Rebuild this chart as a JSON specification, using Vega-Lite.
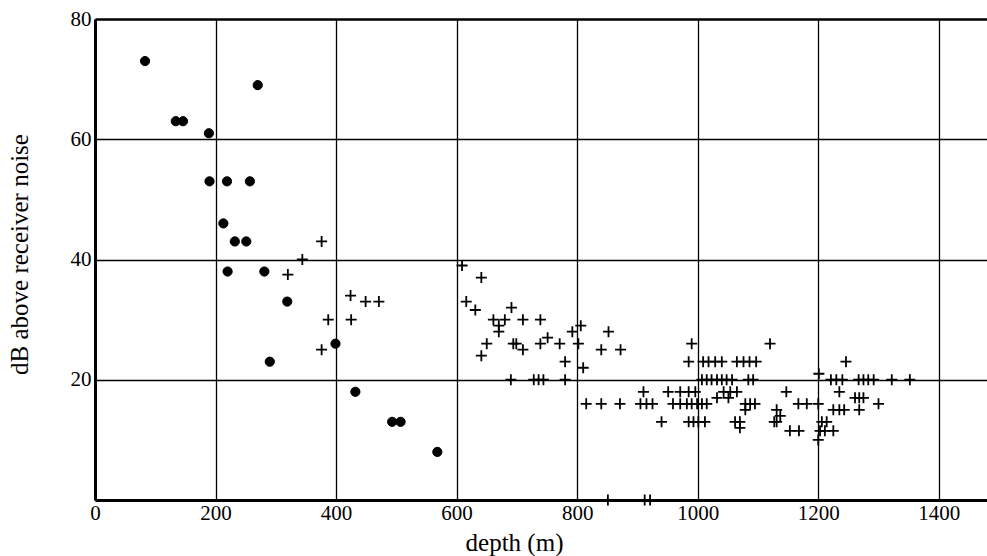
{
  "$schema": "https://vega.github.io/schema/vega-lite/v6.json",
  "width": 892,
  "height": 481,
  "autosize": "none",
  "padding": {"left": 95, "top": 19, "right": 0, "bottom": 56},
  "background": "white",
  "config": {"view": {"stroke": null}, "font": "Liberation Serif"},
  "data": {"values": [
    {"depth": 83, "db": 73, "type": "circle"},
    {"depth": 270, "db": 69, "type": "circle"},
    {"depth": 134, "db": 63, "type": "circle"},
    {"depth": 146, "db": 63, "type": "circle"},
    {"depth": 189, "db": 61, "type": "circle"},
    {"depth": 190, "db": 53, "type": "circle"},
    {"depth": 219, "db": 53, "type": "circle"},
    {"depth": 257, "db": 53, "type": "circle"},
    {"depth": 213, "db": 46, "type": "circle"},
    {"depth": 232, "db": 43, "type": "circle"},
    {"depth": 251, "db": 43, "type": "circle"},
    {"depth": 220, "db": 38, "type": "circle"},
    {"depth": 281, "db": 38, "type": "circle"},
    {"depth": 319, "db": 33, "type": "circle"},
    {"depth": 290, "db": 23, "type": "circle"},
    {"depth": 399, "db": 26, "type": "circle"},
    {"depth": 432, "db": 18, "type": "circle"},
    {"depth": 493, "db": 13, "type": "circle"},
    {"depth": 507, "db": 13, "type": "circle"},
    {"depth": 568, "db": 8, "type": "circle"},

    {"depth": 376, "db": 43, "type": "cross"},
    {"depth": 344, "db": 40, "type": "cross"},
    {"depth": 320, "db": 37.5, "type": "cross"},
    {"depth": 424, "db": 34, "type": "cross"},
    {"depth": 449, "db": 33, "type": "cross"},
    {"depth": 471, "db": 33, "type": "cross"},
    {"depth": 387, "db": 30, "type": "cross"},
    {"depth": 425, "db": 30, "type": "cross"},
    {"depth": 376, "db": 25, "type": "cross"},
    {"depth": 609, "db": 39, "type": "cross"},
    {"depth": 641, "db": 37, "type": "cross"},
    {"depth": 616, "db": 33, "type": "cross"},
    {"depth": 631, "db": 31.6, "type": "cross"},
    {"depth": 691, "db": 32, "type": "cross"},
    {"depth": 661, "db": 30, "type": "cross"},
    {"depth": 680, "db": 30, "type": "cross"},
    {"depth": 670, "db": 29, "type": "cross"},
    {"depth": 670, "db": 28, "type": "cross"},
    {"depth": 710, "db": 30, "type": "cross"},
    {"depth": 739, "db": 30, "type": "cross"},
    {"depth": 792, "db": 28, "type": "cross"},
    {"depth": 806, "db": 29, "type": "cross"},
    {"depth": 852, "db": 28, "type": "cross"},
    {"depth": 650, "db": 26, "type": "cross"},
    {"depth": 694, "db": 26, "type": "cross"},
    {"depth": 699, "db": 26, "type": "cross"},
    {"depth": 710, "db": 25, "type": "cross"},
    {"depth": 739, "db": 26, "type": "cross"},
    {"depth": 751, "db": 27, "type": "cross"},
    {"depth": 771, "db": 26, "type": "cross"},
    {"depth": 802, "db": 26, "type": "cross"},
    {"depth": 641, "db": 24, "type": "cross"},
    {"depth": 840, "db": 25, "type": "cross"},
    {"depth": 872, "db": 25, "type": "cross"},
    {"depth": 780, "db": 23, "type": "cross"},
    {"depth": 810, "db": 22, "type": "cross"},
    {"depth": 690, "db": 20, "type": "cross"},
    {"depth": 728, "db": 20, "type": "cross"},
    {"depth": 736, "db": 20, "type": "cross"},
    {"depth": 744, "db": 20, "type": "cross"},
    {"depth": 780, "db": 20, "type": "cross"},
    {"depth": 910, "db": 18, "type": "cross"},
    {"depth": 815, "db": 16, "type": "cross"},
    {"depth": 840, "db": 16, "type": "cross"},
    {"depth": 871, "db": 16, "type": "cross"},
    {"depth": 905, "db": 16, "type": "cross"},
    {"depth": 915, "db": 16, "type": "cross"},
    {"depth": 925, "db": 16, "type": "cross"},
    {"depth": 851, "db": 0, "type": "cross"},
    {"depth": 912, "db": 0, "type": "cross"},
    {"depth": 921, "db": 0, "type": "cross"},
    {"depth": 990, "db": 26, "type": "cross"},
    {"depth": 1120, "db": 26, "type": "cross"},
    {"depth": 985, "db": 23, "type": "cross"},
    {"depth": 1009, "db": 23, "type": "cross"},
    {"depth": 1018, "db": 23, "type": "cross"},
    {"depth": 1029, "db": 23, "type": "cross"},
    {"depth": 1040, "db": 23, "type": "cross"},
    {"depth": 1065, "db": 23, "type": "cross"},
    {"depth": 1076, "db": 23, "type": "cross"},
    {"depth": 1086, "db": 23, "type": "cross"},
    {"depth": 1097, "db": 23, "type": "cross"},
    {"depth": 1007, "db": 20, "type": "cross"},
    {"depth": 1015, "db": 20, "type": "cross"},
    {"depth": 1023, "db": 20, "type": "cross"},
    {"depth": 1032, "db": 20, "type": "cross"},
    {"depth": 1040, "db": 20, "type": "cross"},
    {"depth": 1048, "db": 20, "type": "cross"},
    {"depth": 1057, "db": 20, "type": "cross"},
    {"depth": 1084, "db": 20, "type": "cross"},
    {"depth": 1092, "db": 20, "type": "cross"},
    {"depth": 951, "db": 18, "type": "cross"},
    {"depth": 971, "db": 18, "type": "cross"},
    {"depth": 985, "db": 18, "type": "cross"},
    {"depth": 996, "db": 18, "type": "cross"},
    {"depth": 1043, "db": 18, "type": "cross"},
    {"depth": 1054, "db": 18, "type": "cross"},
    {"depth": 1065, "db": 18, "type": "cross"},
    {"depth": 1032, "db": 17, "type": "cross"},
    {"depth": 1051, "db": 17, "type": "cross"},
    {"depth": 959, "db": 16, "type": "cross"},
    {"depth": 971, "db": 16, "type": "cross"},
    {"depth": 982, "db": 16, "type": "cross"},
    {"depth": 990, "db": 16, "type": "cross"},
    {"depth": 999, "db": 16, "type": "cross"},
    {"depth": 1007, "db": 16, "type": "cross"},
    {"depth": 1015, "db": 16, "type": "cross"},
    {"depth": 1079, "db": 16, "type": "cross"},
    {"depth": 1087, "db": 16, "type": "cross"},
    {"depth": 1095, "db": 16, "type": "cross"},
    {"depth": 1079, "db": 15, "type": "cross"},
    {"depth": 940, "db": 13, "type": "cross"},
    {"depth": 985, "db": 13, "type": "cross"},
    {"depth": 993, "db": 13, "type": "cross"},
    {"depth": 1001, "db": 13, "type": "cross"},
    {"depth": 1012, "db": 13, "type": "cross"},
    {"depth": 1062, "db": 13, "type": "cross"},
    {"depth": 1070, "db": 13, "type": "cross"},
    {"depth": 1127, "db": 13, "type": "cross"},
    {"depth": 1070, "db": 12, "type": "cross"},
    {"depth": 1246, "db": 23, "type": "cross"},
    {"depth": 1201, "db": 21, "type": "cross"},
    {"depth": 1221, "db": 20, "type": "cross"},
    {"depth": 1230, "db": 20, "type": "cross"},
    {"depth": 1240, "db": 20, "type": "cross"},
    {"depth": 1267, "db": 20, "type": "cross"},
    {"depth": 1275, "db": 20, "type": "cross"},
    {"depth": 1283, "db": 20, "type": "cross"},
    {"depth": 1292, "db": 20, "type": "cross"},
    {"depth": 1322, "db": 20, "type": "cross"},
    {"depth": 1352, "db": 20, "type": "cross"},
    {"depth": 1147, "db": 18, "type": "cross"},
    {"depth": 1235, "db": 18, "type": "cross"},
    {"depth": 1261, "db": 17, "type": "cross"},
    {"depth": 1268, "db": 17, "type": "cross"},
    {"depth": 1275, "db": 17, "type": "cross"},
    {"depth": 1300, "db": 16, "type": "cross"},
    {"depth": 1167, "db": 16, "type": "cross"},
    {"depth": 1181, "db": 16, "type": "cross"},
    {"depth": 1200, "db": 16, "type": "cross"},
    {"depth": 1131, "db": 15, "type": "cross"},
    {"depth": 1137, "db": 14, "type": "cross"},
    {"depth": 1131, "db": 13, "type": "cross"},
    {"depth": 1225, "db": 15, "type": "cross"},
    {"depth": 1235, "db": 15, "type": "cross"},
    {"depth": 1243, "db": 15, "type": "cross"},
    {"depth": 1268, "db": 15, "type": "cross"},
    {"depth": 1206, "db": 13, "type": "cross"},
    {"depth": 1214, "db": 13, "type": "cross"},
    {"depth": 1153, "db": 11.5, "type": "cross"},
    {"depth": 1168, "db": 11.5, "type": "cross"},
    {"depth": 1203, "db": 11.5, "type": "cross"},
    {"depth": 1211, "db": 11.5, "type": "cross"},
    {"depth": 1225, "db": 11.5, "type": "cross"},
    {"depth": 1200, "db": 10, "type": "cross"}
  ]},
  "encoding": {
    "x": {
      "field": "depth", "type": "quantitative",
      "scale": {"domain": [0, 1480], "nice": false, "zero": false},
      "axis": {
        "values": [0, 200, 400, 600, 800, 1000, 1200, 1400],
        "format": "d",
        "title": "depth (m)", "titleFontSize": 25, "titleFontWeight": "normal", "titleColor": "black",
        "titlePadding": 7, "titleX": 419,
        "labelFontSize": 21, "labelColor": "black", "labelPadding": 2, "labelFlush": false,
        "ticks": false, "domainColor": "black", "domainWidth": 3,
        "grid": true, "gridColor": "black", "gridWidth": 1.3, "gridOpacity": 1
      }
    },
    "y": {
      "field": "db", "type": "quantitative",
      "scale": {"domain": [0, 80], "nice": false},
      "axis": {
        "values": [20, 40, 60, 80],
        "format": "d",
        "title": "dB above receiver noise", "titleFontSize": 25, "titleFontWeight": "normal", "titleColor": "black",
        "titlePadding": 38, "titleY": 235,
        "labelFontSize": 21, "labelColor": "black", "labelPadding": 4,
        "ticks": false, "domainColor": "black", "domainWidth": 3,
        "grid": true, "gridColor": "black", "gridOpacity": 1,
        "gridWidth": {"condition": {"test": "datum.value == 80", "value": 2.5}, "value": 1.3}
      }
    }
  },
  "layer": [
    {
      "transform": [{"filter": "datum.type == 'circle'"}],
      "mark": {"type": "point", "shape": "circle", "filled": true, "fill": "black", "stroke": "black", "strokeWidth": 1, "size": 85, "opacity": 1}
    },
    {
      "transform": [{"filter": "datum.type == 'cross'"}],
      "mark": {"type": "point", "shape": "M-1,0H1M0,-1V1", "filled": false, "stroke": "black", "strokeWidth": 1.8, "size": 121, "opacity": 1}
    }
  ]
}
